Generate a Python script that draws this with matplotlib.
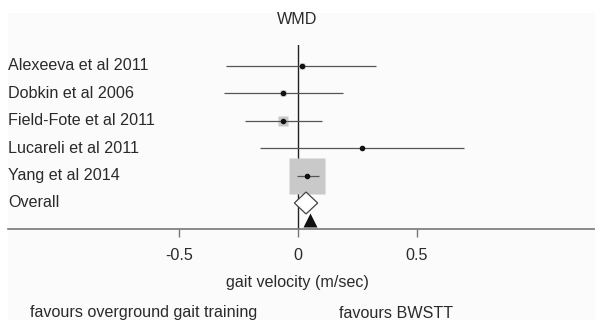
import matplotlib
matplotlib.use("Agg")
import matplotlib.pyplot as plt
from matplotlib.patches import Polygon, Rectangle

plt.rcParams['font.family'] = ['Liberation Sans', 'DejaVu Sans']

studies = ["Alexeeva et al 2011", "Dobkin et al 2006", "Field-Fote et al 2011",
           "Lucareli et al 2011", "Yang et al 2014"]
estimates = [0.02, -0.06, -0.06, 0.27, 0.04]
lower = [-0.30, -0.31, -0.22, -0.16, -0.005]
upper = [0.33, 0.19, 0.10, 0.70, 0.09]
weights = [1.7, 2.4, 6.8, 1.1, 88.0]
overall_label = "Overall"
overall_est = 0.035
overall_lo = -0.014
overall_hi = 0.084
triangle_value = 0.05
xticks = [-0.5, 0, 0.5]
xticklabels = ["-0.5", "0", "0.5"]

W, H = 595, 320
fig = plt.figure(figsize=(W / 100, H / 100), dpi=100)
fig.patches.append(Rectangle((8 / W, 0), 1 - 8 / W, 1 - 13 / H, transform=fig.transFigure,
                             facecolor="#fbfbfb", edgecolor="none", zorder=-10))

ax_left, ax_right = 8, 595
ax_top, ax_bot = 45, 229
ax = fig.add_axes([ax_left / W, 1 - ax_bot / H, (ax_right - ax_left) / W, (ax_bot - ax_top) / H])
ax.patch.set_alpha(0)

x0_px, scale = 297.7, 238.0
ax.set_xlim((ax_left - x0_px) / scale, (ax_right - x0_px) / scale)
row0, rowstep = 66.0, 27.4
ax.set_ylim((ax_bot - row0) / rowstep, (ax_top - row0) / rowstep)

n = len(studies)
fs = 11.6
tc = "#2a2a2a"
max_side_pt = 36 / 1.389
for i in range(n):
    ax.plot([lower[i], upper[i]], [i, i], color="#555555", lw=0.9, zorder=2, solid_capstyle="butt")
    side = max_side_pt * (weights[i] / max(weights)) ** 0.5
    ax.plot([estimates[i]], [i], marker="s", ms=side, mfc="#c9c9c9", mec="none", zorder=1)
    ax.plot([estimates[i]], [i], marker="o", ms=3.0, color="#111111", zorder=3)
    ax.text(0.0, i, studies[i], transform=ax.get_yaxis_transform(), ha="left", va="center",
            fontsize=fs, color=tc)

yo = n
h = 0.4
ax.add_patch(Polygon([[overall_lo, yo], [overall_est, yo - h], [overall_hi, yo], [overall_est, yo + h]],
                     closed=True, facecolor="white", edgecolor="#444444", lw=0.9, zorder=4))
ax.text(0.0, yo, overall_label, transform=ax.get_yaxis_transform(), ha="left", va="center",
        fontsize=fs, color=tc)

ax.plot([triangle_value], [(220.5 - row0) / rowstep], marker="^", ms=10.5, color="#111111",
        mec="none", zorder=5)

ax.axvline(0, color="#222222", lw=1.0, zorder=0)

for s in ["top", "right", "left"]:
    ax.spines[s].set_visible(False)
ax.spines["bottom"].set_color("#777777")
ax.spines["bottom"].set_linewidth(1.2)
ax.set_yticks([])
ax.set_xticks(xticks)
ax.set_xticklabels(xticklabels, fontsize=fs, color=tc)
ax.tick_params(axis="x", direction="out", length=6, width=1.0, color="#777777", pad=8)

fig.text(297 / W, 1 - 20 / H, "WMD", ha="center", va="center", fontsize=fs, color=tc)
fig.text(297 / W, 1 - 282 / H, "gait velocity (m/sec)", ha="center", va="center", fontsize=fs,
         color=tc)
fig.text(30 / W, 1 - 313 / H, "favours overground gait training", ha="left", va="center",
         fontsize=fs, color=tc)
fig.text(339 / W, 1 - 313 / H, "favours BWSTT", ha="left", va="center", fontsize=fs, color=tc)

fig.savefig("out.png", dpi=100)
